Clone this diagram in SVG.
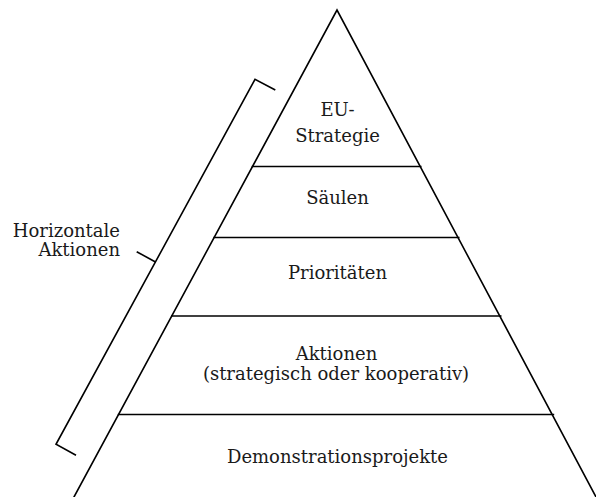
<svg xmlns="http://www.w3.org/2000/svg" width="596" height="497" viewBox="0 0 596 497">
<style>
.l{stroke:#000;stroke-width:1.6;fill:none;stroke-linecap:square}
.t{font-family:"DejaVu Serif","Liberation Serif",serif;font-size:18px;fill:#1a1a1a;text-anchor:middle}
.r{text-anchor:end}
</style>
<rect width="596" height="497" fill="#fff"/>
<g id="connectors">
<polyline class="l" points="74,497 337,10 596,497"/>
<line class="l" x1="252.5" y1="166.5" x2="420.7" y2="166.5"/>
<line class="l" x1="214.2" y1="237.5" x2="458.7" y2="237.5"/>
<line class="l" x1="171.8" y1="316" x2="500.7" y2="316"/>
<line class="l" x1="118.6" y1="414.5" x2="553.4" y2="414.5"/>
</g>
<g id="bracket">
<polyline class="l" style="stroke-linecap:butt" points="275.3,90 255,79.3 56,444.3 76,455.3"/>
<line class="l" style="stroke-linecap:butt" x1="136.7" y1="251.7" x2="155.5" y2="262"/>
</g>
<g id="eu-strategie"><text class="t" x="337.5" y="115.5">EU-</text><text class="t" x="337.5" y="142">Strategie</text></g>
<g id="saeulen"><text class="t" x="337.5" y="204">Säulen</text></g>
<g id="prioritaeten"><text class="t" x="337.5" y="279">Prioritäten</text></g>
<g id="aktionen"><text class="t" x="336.5" y="360">Aktionen</text><text class="t" x="336" y="380">(strategisch oder kooperativ)</text></g>
<g id="demonstrationsprojekte"><text class="t" x="337.5" y="463">Demonstrationsprojekte</text></g>
<g id="horizontale-aktionen"><text class="t r" x="120" y="237">Horizontale</text><text class="t r" x="120" y="256">Aktionen</text></g>
</svg>
